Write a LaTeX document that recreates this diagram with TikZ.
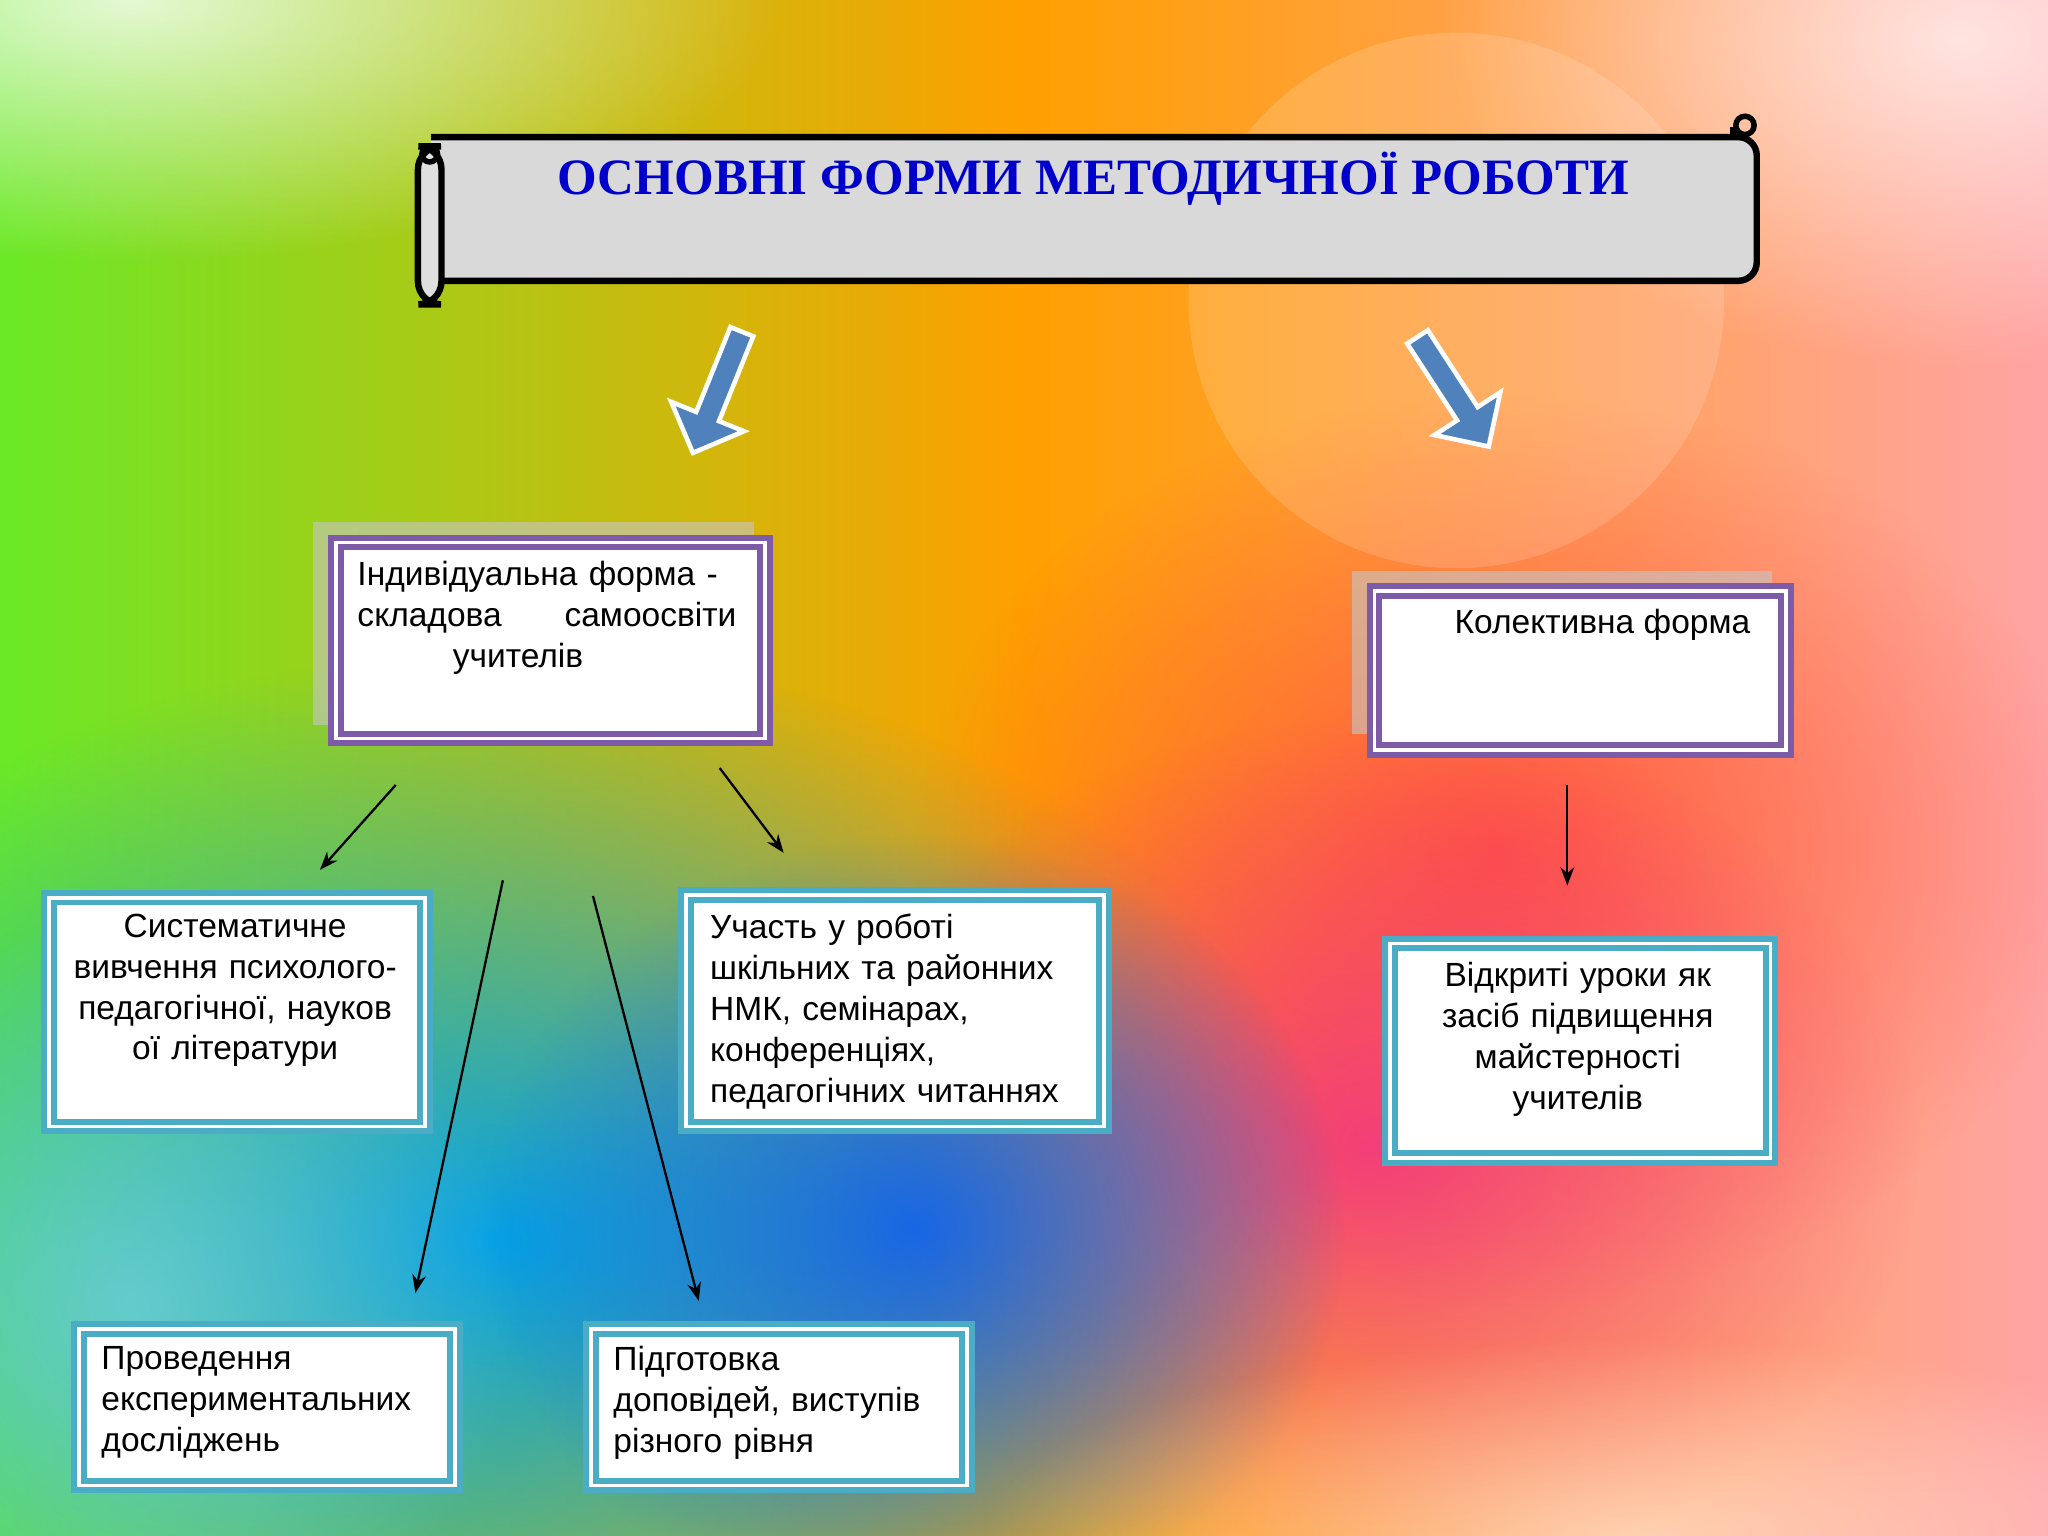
\documentclass[tikz,border=0pt]{standalone}
\usepackage{fontspec}
\setmainfont{Liberation Sans}
\newfontfamily\titlefont{Liberation Serif}
\usetikzlibrary{shapes.arrows,fadings,arrows.meta}
\tikzfading[name=softcircle, inner color=transparent!0, outer color=transparent!100]
\definecolor{boxpurple}{HTML}{7E5BA6}
\definecolor{boxteal}{HTML}{4BACC6}
\definecolor{arrowblue}{HTML}{4F81BD}
\tikzset{
 pbox/.style={draw=boxpurple,line width=1.3pt,double=white,double distance=0.8pt,fill=white,anchor=north west,inner sep=0pt},
 tbox/.style={draw=boxteal,line width=1.3pt,double=white,double distance=0.8pt,fill=white,anchor=north west,inner sep=0pt},
 shadowbox/.style={fill=gray!45,opacity=0.6},
 txt/.style={font=\fontsize{7.3}{8.9}\selectfont,anchor=north west,inner sep=0pt},
 conn/.style={-{Stealth[length=4pt,width=3pt]},line width=0.5pt},
 bigarrow/.style={single arrow,fill=arrowblue,draw=white,line width=1pt,minimum height=1cm,minimum width=0.6cm,single arrow head extend=0.1cm,inner sep=0.8pt}
}
\begin{document}
\begin{tikzpicture}[x=0.01cm,y=-0.01cm]
\useasboundingbox (0,0) rectangle (1568,1176);
% background
\shade[left color=green!65!yellow!90!black!85,right color=pink!70!red!75,middle color=orange!75!yellow] (0,0) rectangle (1568,1176);
\fill[red!70!pink,path fading=softcircle,opacity=0.7] (1150,650) ellipse (450 and 350);
\fill[magenta!85!pink,path fading=softcircle,opacity=0.7] (1050,880) ellipse (420 and 330);
\fill[cyan!90!blue,path fading=softcircle,opacity=1] (380,950) ellipse (650 and 450);
\fill[blue!65!cyan,path fading=softcircle,opacity=0.8] (700,940) ellipse (330 and 300);
\fill[cyan!50,path fading=softcircle,opacity=0.6] (100,1000) ellipse (300 and 300);
\fill[white,path fading=softcircle,opacity=0.8] (100,0) ellipse (500 and 200);
\fill[white,path fading=softcircle,opacity=0.7] (1500,30) ellipse (400 and 250);
\fill[white,path fading=softcircle,opacity=0.5] (1250,1176) ellipse (500 and 150);
\fill[white,opacity=0.15] (1115,230) circle (205);
% banner
\draw[line width=1.4pt,fill=gray!30,rounded corners=4pt] (330,105) -- (1345,105) -- (1345,215) -- (330,215);
\draw[line width=1.4pt,fill=gray!25,rounded corners=5pt] (320,112) rectangle (338,233);
\draw[line width=1.2pt] (329,118) circle (6);
\draw[line width=1.2pt] (1336,96) circle (7);
\draw[line width=1.2pt] (1327,97) -- (1327,105);
\node[font=\titlefont\bfseries\fontsize{11.1}{13}\selectfont,text=blue!80!black] (title) at (837,137) {ОСНОВНІ ФОРМИ МЕТОДИЧНОЇ РОБОТИ};
% big arrows
\node[bigarrow,rotate=-112] (la) at (551,296) {};
\node[bigarrow,rotate=-57] (ra) at (1110,296) {};
% purple boxes
\fill[shadowbox] (240,400) rectangle (577,555);
\node[pbox,minimum width=3.28cm,minimum height=1.5cm] (ind) at (255,413) {};
\node[txt,text width=2.9cm,align=left] (indt) at (273,429) {Індивідуальна форма -\\складова\hfill самоосвіти\\\hspace*{0.73cm}учителів};
\fill[shadowbox] (1035,437) rectangle (1357,562);
\node[pbox,minimum width=3.15cm,minimum height=1.22cm] (col) at (1050,450) {};
\node[txt] (colt) at (1113,466) {Колективна форма};
% teal boxes
\node[tbox,minimum width=2.88cm,minimum height=1.75cm] (sys) at (35,685) {};
\node[txt,text width=2.6cm,align=center,anchor=north] at (180,699) {Систематичне\\вивчення психолого-\\педагогічної, науков\\ої літератури};
\node[tbox,minimum width=3.2cm,minimum height=1.77cm] (uch) at (523,683) {};
\node[txt,text width=2.9cm,align=left] at (543,699) {Участь у роботі\\шкільних та районних\\НМК, семінарах,\\конференціях,\\педагогічних читаннях};
\node[tbox,minimum width=2.91cm,minimum height=1.64cm] (vid) at (1062,720) {};
\node[txt,text width=2.6cm,align=center,anchor=north] at (1208,736) {Відкриті уроки як\\засіб підвищення\\майстерності\\учителів};
\node[tbox,minimum width=2.88cm,minimum height=1.2cm] (pro) at (58,1015) {};
\node[txt,text width=2.7cm,align=left] at (77,1030) {Проведення\\експериментальних\\досліджень};
\node[tbox,minimum width=2.88cm,minimum height=1.2cm] (pid) at (450,1015) {};
\node[txt,text width=2.7cm,align=left] at (469,1030) {Підготовка\\доповідей, виступів\\різного рівня};
% connectors
\coordinate (s1) at (303,601); \coordinate (e1) at (245,666);
\coordinate (s2) at (551,588); \coordinate (e2) at (600,653);
\coordinate (s3) at (385,674); \coordinate (e3) at (318,990);
\coordinate (s4) at (454,686); \coordinate (e4) at (535,996);
\coordinate (s5) at (1200,601); \coordinate (e5) at (1200,678);
\draw[conn] (s1) -- (e1);
\draw[conn] (s2) -- (e2);
\draw[conn] (s3) -- (e3);
\draw[conn] (s4) -- (e4);
\draw[conn] (s5) -- (e5);
\end{tikzpicture}
\end{document}
